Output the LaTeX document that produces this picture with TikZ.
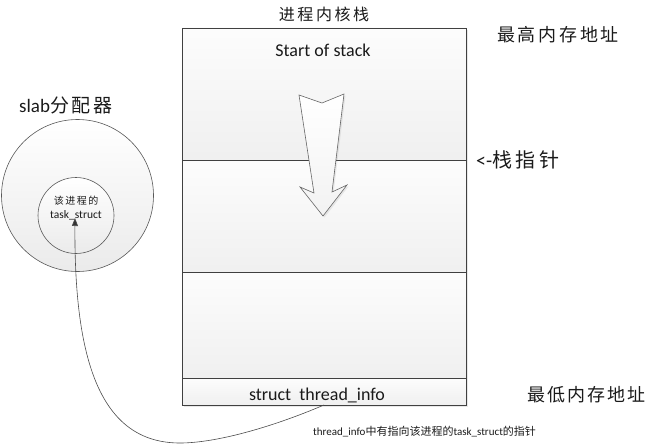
\documentclass[tikz,border=0pt]{standalone}
\usepackage{fontspec}
\setmainfont{Carlito}
\newfontfamily\cjk{Noto Sans CJK SC}
\newcommand\cjkls[1]{\cjk\addfontfeature{LetterSpace=#1}}
\usetikzlibrary{arrows.meta,shadows}
\definecolor{edge}{HTML}{404040}
\definecolor{txt}{HTML}{1A1A1A}
\tikzset{
  section/.style={draw=edge, line width=0.9pt, rectangle, inner sep=0pt, outer sep=0pt,
    minimum width=284pt, top color=black!1, bottom color=black!6,
    drop shadow={opacity=0.18, shadow xshift=2pt, shadow yshift=-2pt}},
  ring/.style={draw=black!65, line width=0.6pt, circle, inner sep=0pt, outer sep=0pt,
    top color=white, bottom color=black!8},
  lbl/.style={inner sep=0pt, text=txt},
  conn/.style={draw=black!70, line width=0.6pt, -{Triangle[length=8pt,width=6pt,fill=black!80]}},
}
\begin{document}
\begin{tikzpicture}[x=1pt,y=-1pt]
\useasboundingbox (0,0) rectangle (653,444);
% stack sections
\node[section, minimum height=132pt] (s1) at (324,94) {};
\node[section, minimum height=112pt] (s2) at (324,216) {};
\node[section, minimum height=106pt] (s3) at (324,325) {};
\node[section, minimum height=27pt] (s4) at (324,391.5) {};
% hollow arrow
\draw[draw=black!60, line width=0.6pt, top color=white, bottom color=black!5,
  drop shadow={opacity=0.15, shadow xshift=1.5pt, shadow yshift=-1.5pt}]
  (299,95) -- (322,103) -- (344,94) -- (332,192) -- (347,185) -- (323,216)
  -- (300,187) -- (314,193) -- cycle;
% circles
\node[ring, minimum size=152pt] (outer) at (77.5,195.5) {};
\node[ring, minimum size=76pt] (inner) at (76,215.5) {};
\coordinate (tip) at (75,218);
% texts
\node[lbl, font=\cjkls{16}\fontsize{16}{18}\selectfont] (title) at (324,14) {进程内核栈};
\node[lbl, font=\fontsize{18}{20}\selectfont] (start) at (323,50) {Start of stack};
\node[lbl, anchor=west, font=\cjkls{15}\fontsize{18}{20}\selectfont] (high) at (497,35) {最高内存地址};
\node[lbl, anchor=west, font=\fontsize{20}{22}\selectfont] (sp) at (476,160) {<-{\cjkls{18}\fontsize{20}{22}\selectfont 栈指针}};
\node[lbl, anchor=west, font=\fontsize{19}{21}\selectfont] (slab) at (19,105) {slab{\cjkls{14}\fontsize{19}{21}\selectfont 分配器}};
\node[lbl, anchor=west, font=\cjkls{12}\fontsize{18}{20}\selectfont] (low) at (527,395) {最低内存地址};
\node[lbl, font=\fontsize{18}{20}\selectfont] (ti) at (317,395) {struct~~thread\_info};
\node[lbl, font=\cjkls{15}\fontsize{10}{12}\selectfont] (ts1) at (76,201) {该进程的};
\node[lbl, font=\fontsize{11.5}{13}\selectfont] (ts2) at (76,215) {task\_struct};
\node[lbl, anchor=west, font=\fontsize{11}{13}\selectfont] (note) at (313,432)
  {thread\_info{\cjk 中有指向该进程的}task\_struct{\cjk 的指针}};
% connector
\draw[conn] (s4.south) .. controls (270,428) and (215,443) .. (180,443)
  .. controls (100,443) and (74,360) .. (tip);
\end{tikzpicture}
\end{document}
